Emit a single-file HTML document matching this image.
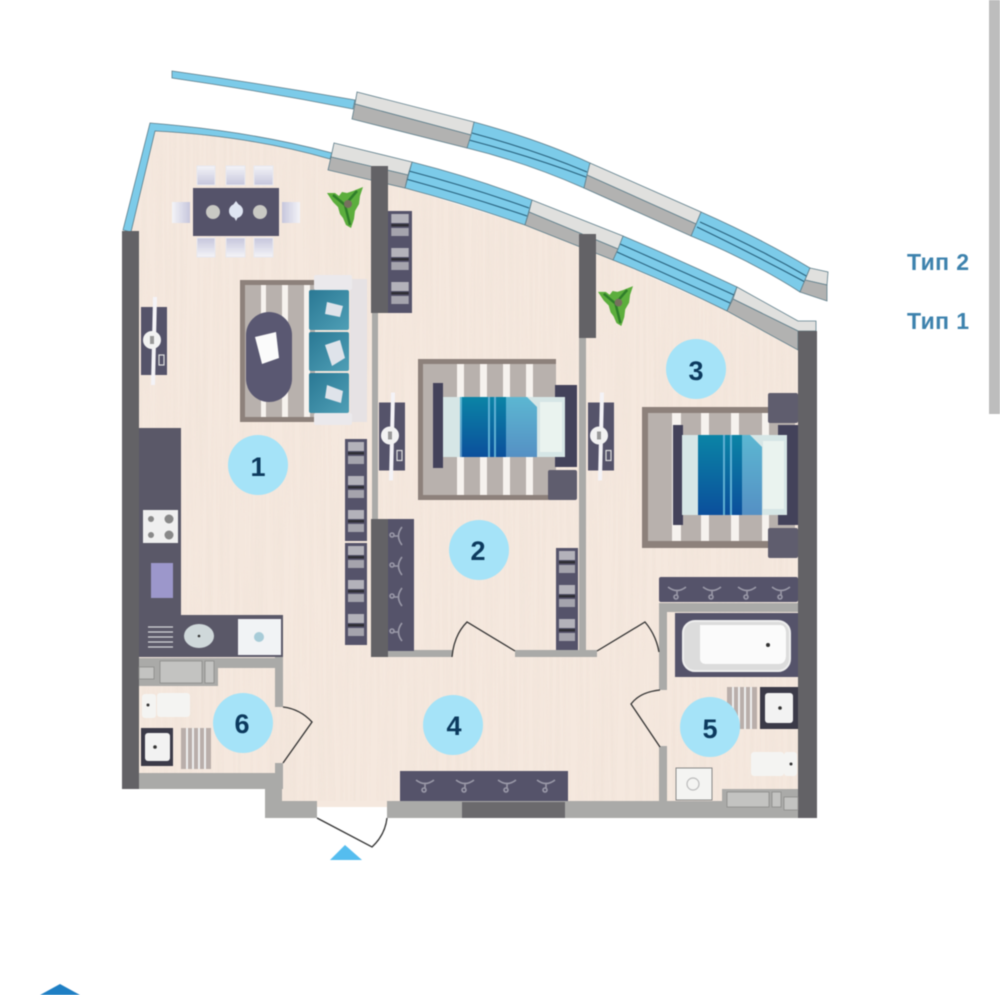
<!DOCTYPE html>
<html lang="ru"><head><meta charset="utf-8"><title>Планировка</title>
<style>html,body{margin:0;padding:0;background:#fff;width:1000px;height:995px;overflow:hidden}svg{display:block;filter:blur(.4px)}
text{font-family:"Liberation Sans","DejaVu Sans",sans-serif;font-weight:bold}</style></head>
<body>
<svg xmlns="http://www.w3.org/2000/svg" width="1000" height="995" viewBox="0 0 1000 995">
<defs>
<filter id="wood" x="0" y="0" width="100%" height="100%"><feTurbulence type="fractalNoise" baseFrequency="0.3 0.006" numOctaves="2" seed="4"/><feColorMatrix values="0 0 0 0 .82  0 0 0 0 .72  0 0 0 0 .64  0 0 0 1.6 -0.62"/></filter>
<clipPath id="fc"><path id="fp" d="M131 232L155 131Q250 136 330 159L405 188L525 225L613 260L727 311L798 350V807H282V773H131Z"/></clipPath>
<linearGradient id="ch" x1="0" y1="0" x2="0" y2="1"><stop offset="0" stop-color="#f4f4f8"/><stop offset="1" stop-color="#c6c6dc"/></linearGradient>
<linearGradient id="ch2" x1="0" y1="0" x2="1" y2="0"><stop offset="0" stop-color="#f4f4f8"/><stop offset="1" stop-color="#c6c6dc"/></linearGradient>
<linearGradient id="sofa" x1="0" y1="0" x2="1" y2="1"><stop offset="0" stop-color="#2a7894"/><stop offset="1" stop-color="#4f9fb6"/></linearGradient>
<linearGradient id="bl" x1="0" y1="0" x2="0" y2="1"><stop offset="0" stop-color="#0b84a6"/><stop offset="1" stop-color="#0b4f9c"/></linearGradient>
<linearGradient id="bl2" x1="0" y1="0" x2="0" y2="1"><stop offset="0" stop-color="#5cb7d2"/><stop offset="1" stop-color="#5590c4"/></linearGradient>
<symbol id="plant" viewBox="0 0 36 42" overflow="visible"><path d="M0 6L8 6L12 9L15 5L20 6L26 4L36 0L33 9L32 17L28 24L27 32L24 41L19 38L16 31L13 27L11 20L6 15Z" fill="#5cae3d"/><path d="M6 8L18 18L30 4M18 18L23 38" stroke="#2f7d2a" stroke-width="2.5" fill="none"/><circle cx="21" cy="17" r="4" fill="#77705f"/></symbol>
<symbol id="tv" viewBox="0 0 26 88" overflow="visible"><rect x="0" y="10" width="26" height="68" fill="#55536a"/><path d="M14 0L12 88" stroke="#f4f3f7" stroke-width="4"/><circle cx="11" cy="43" r="9" fill="#f2f2f2"/><rect x="9" y="39" width="4" height="8" fill="#999"/><rect x="18" y="58" width="5" height="10" fill="none" stroke="#ddd" stroke-width="1.2"/></symbol>
<g id="sh"><rect width="22" height="34" fill="#55536a"/><rect x="3" y="3" width="16" height="9" fill="#b3b2ba"/><rect x="3" y="13" width="16" height="2.5" fill="#2f2e36"/><rect x="3" y="17" width="16" height="8" fill="#a5a4ad"/></g>
<g id="hg" fill="none" stroke="#9a99a8" stroke-width="1.6"><path d="M-9 -3Q0 4 9 -3M0 1V5"/><circle cx="-1" cy="7" r="2"/></g>
<g id="hv" fill="none" stroke="#9a99a8" stroke-width="1.6"><path d="M3 -9Q-4 0 3 9M-1 0H-5"/><circle cx="-7" cy="-1" r="2"/></g>
</defs>

<!-- floor -->
<use href="#fp" fill="#f5e8de"/>
<g clip-path="url(#fc)"><rect x="125" y="120" width="685" height="700" filter="url(#wood)" opacity=".4"/></g>
<rect x="317" y="801" width="70" height="6" fill="#f5e8de"/>

<!-- upper windows (Тип 2) -->
<g stroke="#5d7d8a" stroke-width=".8">
<path d="M172 71Q264 84 355 100L353 109Q262 91 172 78Z" fill="#7ccbe9"/>
<path d="M474 122Q540 140 590 163L584 188Q525 162 467 148Z" fill="#7ccbe9"/>
<path d="M701 212Q760 238 810 268L800 292Q750 260 691 236Z" fill="#7ccbe9"/>
<path d="M472 133Q535 150 587 172M469 140Q530 156 586 177M700 222Q758 248 808 277M697 227Q755 255 805 282" fill="none" stroke="#27607c" stroke-width="1.100"/>
<path d="M357 92L474 122L471 135L355 104Z" fill="#e0e0de"/><path d="M355 104L471 135L467 148L352 119Z" fill="#b2b2b1"/>
<path d="M590 163L701 212L696 224L587 175Z" fill="#e0e0de"/><path d="M587 175L696 224L691 236L584 188Z" fill="#b2b2b1"/>
<path d="M810 268L828 272L827 285L805 280Z" fill="#e0e0de"/><path d="M805 280L827 285L827 301L800 292Z" fill="#b2b2b1"/>
</g>
<!-- lower windows (Тип 1) -->
<g stroke="#5d7d8a" stroke-width=".8">
<path d="M123 230L150 123Q250 131 332 153L330 159Q250 136 155 131L131 232Z" fill="#7ccbe9"/>
<path d="M412 162Q475 178 532 200L525 225Q465 204 405 188Z" fill="#7ccbe9"/>
<path d="M623 236Q680 260 737 287L727 311Q670 283 613 260Z" fill="#7ccbe9"/>
<path d="M409 171Q470 187 529 208M406 179Q468 196 527 216M620 244Q677 269 734 295M617 252Q673 277 730 303" fill="none" stroke="#27607c" stroke-width="1.100"/>
<path d="M334 143L412 162L408 175L331 157Z" fill="#e0e0de"/><path d="M331 157L408 175L405 188L328 170Z" fill="#b2b2b1"/>
<path d="M532 200L623 236L618 249L529 212Z" fill="#e0e0de"/><path d="M529 212L618 249L613 260L525 225Z" fill="#b2b2b1"/>
<path d="M737 287L798 321H816V331H798L733 299Z" fill="#e0e0de"/><path d="M733 299L798 331V350L727 311Z" fill="#b2b2b1"/>
</g>

<!-- dining -->
<g fill="url(#ch)" stroke="#e8e8ee" stroke-width="1">
<rect x="197" y="166" width="18" height="19"/><rect x="226" y="166" width="19" height="19"/><rect x="254" y="166" width="19" height="19"/>
<rect x="197" y="238" width="18" height="19" transform="rotate(180 206 247.5)"/><rect x="226" y="238" width="19" height="19" transform="rotate(180 235.500 247.500)"/><rect x="254" y="238" width="19" height="19" transform="rotate(180 263.500 247.500)"/>
</g>
<rect x="172" y="202" width="18" height="21" fill="url(#ch2)"/><rect x="282" y="202" width="18" height="21" fill="url(#ch2)" transform="rotate(180 291 212.500)"/>
<rect x="193" y="188" width="86" height="48" fill="#55536a"/>
<circle cx="213" cy="212" r="7" fill="#c9c9c4"/><circle cx="260" cy="212" r="7" fill="#c9c9c4"/><circle cx="236" cy="211" r="7" fill="#dfe5f2"/><path d="M233 205L236 201L239 205ZM234 217H238L236 221Z" fill="#dfe5f2"/>
<use href="#plant" x="327" y="187" width="36" height="42"/>
<use href="#plant" x="598" y="286" width="35" height="41"/>

<!-- living -->
<use href="#tv" x="141" y="297" width="26" height="88"/>
<rect x="240" y="280" width="75" height="142" fill="#8d817b"/><rect x="245" y="285" width="70" height="132" fill="#b8b1ad"/>
<rect x="261" y="285" width="5" height="132" fill="#f6f2ee"/><rect x="282" y="285" width="6" height="132" fill="#f6f2ee"/><rect x="304" y="285" width="6" height="132" fill="#f6f2ee"/>
<rect x="246" y="312" width="46" height="90" rx="23" fill="#5a5872"/>
<path d="M255 337L276 332L279 358L262 364Z" fill="#fbfbfb"/>
<rect x="350" y="279" width="17" height="143" fill="#e6e2e4"/>
<rect x="314" y="275" width="38" height="15" rx="2" fill="#ebe9ec"/><rect x="314" y="413" width="38" height="12" rx="2" fill="#ebe9ec"/>
<rect x="309" y="290" width="40" height="40" fill="url(#sofa)" rx="2"/><rect x="309" y="332" width="40" height="39" fill="url(#sofa)" rx="2"/><rect x="309" y="373" width="40" height="40" fill="url(#sofa)" rx="2"/>
<path d="M327 302L343 306L340 317L325 314Z M325 345L340 340L345 358L332 366Z M327 385L343 391L341 403L325 398Z" fill="#dfe3ea"/>

<!-- kitchen -->
<path d="M139 428H181V615H283V657H139Z" fill="#5a5868"/>
<rect x="143" y="510" width="35" height="33" fill="#efefef"/><circle cx="151" cy="519" r="3" fill="#888"/><circle cx="169" cy="519" r="4.500" fill="#888"/><circle cx="151" cy="535" r="3" fill="#888"/><circle cx="169" cy="535" r="4.500" fill="#888"/>
<rect x="151" y="563" width="22" height="35" fill="#9c97cb"/>
<path d="M148 627H173M148 632H173M148 637H173M148 642H173M148 647H173" stroke="#d5d5d8" stroke-width="1.300"/>
<ellipse cx="199" cy="636" rx="15" ry="12" fill="#cfd8da"/><circle cx="199" cy="636" r="1.300" fill="#333"/>
<rect x="238" y="619" width="43" height="36" fill="#f1f3f5"/><circle cx="259" cy="637" r="5" fill="#a8ccd8"/>

<!-- shelves -->
<g transform="translate(345 439)"><use href="#sh"/><use href="#sh" y="34"/><use href="#sh" y="68"/></g>
<g transform="translate(345 543)"><use href="#sh"/><use href="#sh" y="34"/><use href="#sh" y="68"/></g>
<g transform="translate(388 211) scale(1.090 1)"><use href="#sh"/><use href="#sh" y="34"/><use href="#sh" y="68"/></g>
<g transform="translate(556 548)"><use href="#sh"/><use href="#sh" y="34"/><use href="#sh" y="68"/></g>

<!-- walls -->
<g fill="#aaaaa8">
<rect x="139" y="658" width="144" height="10"/><rect x="275" y="657" width="8" height="50"/><rect x="275" y="763" width="8" height="10"/>
<rect x="139" y="773" width="144" height="16"/><rect x="265" y="773" width="17" height="45"/><rect x="265" y="801" width="52" height="17"/>
<rect x="387" y="801" width="411" height="17"/>
<rect x="372" y="313" width="6" height="207"/><rect x="579" y="338" width="7" height="318"/>
<rect x="388" y="650" width="64" height="7"/><rect x="515" y="650" width="82" height="7"/>
<rect x="659" y="603" width="139" height="9"/><rect x="659" y="603" width="8" height="87"/><rect x="659" y="746" width="8" height="56"/>
</g>
<rect x="462" y="802" width="103" height="16" fill="#6b6a6d"/>
<g fill="#636266">
<rect x="122" y="231" width="17" height="558"/><rect x="798" y="331" width="19" height="487"/>
<rect x="371" y="166" width="17" height="147"/><rect x="371" y="519" width="17" height="138"/><rect x="579" y="234" width="17" height="104"/>
</g>

<!-- wardrobes -->
<rect x="388" y="519" width="26" height="132" fill="#55536a"/><g transform="translate(399 0)"><use href="#hv" y="536"/><use href="#hv" y="566"/><use href="#hv" y="597"/><use href="#hv" y="632"/></g>
<rect x="400" y="771" width="168" height="30" fill="#55536a"/><g transform="translate(0 783)"><use href="#hg" x="425"/><use href="#hg" x="465"/><use href="#hg" x="507"/><use href="#hg" x="546"/></g>
<rect x="659" y="577" width="139" height="25" rx="2" fill="#55536a"/><g transform="translate(0 590)"><use href="#hg" x="677"/><use href="#hg" x="712"/><use href="#hg" x="747"/><use href="#hg" x="781"/></g>

<!-- room 2 -->
<use href="#tv" x="379" y="390" width="26" height="93"/><use href="#tv" x="588" y="390" width="26" height="93"/>
<rect x="418" y="359" width="138" height="141" fill="#8d817b"/><rect x="423" y="364" width="133" height="131" fill="#b8b1ad"/>
<rect x="457" y="364" width="7" height="131" fill="#f6f2ee"/><rect x="480" y="364" width="7" height="131" fill="#f6f2ee"/><rect x="503" y="364" width="7" height="131" fill="#f6f2ee"/><rect x="526" y="364" width="7" height="131" fill="#f6f2ee"/>
<rect x="433" y="383" width="10" height="85" fill="#43425a"/><rect x="555" y="385" width="22" height="82" fill="#43425a"/>
<rect x="548" y="470" width="29" height="30" rx="2" fill="#5f5d6e"/>
<rect x="443" y="397" width="122" height="60" fill="#d6e6e6"/><rect x="540" y="402" width="22" height="50" fill="#eaf3ef"/>
<path d="M460 397H527L537 407V457H460Z" fill="url(#bl2)"/><rect x="462" y="397" width="44" height="60" fill="url(#bl)"/><path d="M489 397V457M495 397V457" stroke="#5fb0d3" stroke-width="2"/>

<!-- room 3 -->
<rect x="642" y="407" width="126" height="6" fill="#8d817b"/><rect x="642" y="407" width="6" height="141" fill="#8d817b"/><rect x="642" y="541" width="153" height="7" fill="#8d817b"/>
<rect x="648" y="413" width="147" height="128" fill="#b8b1ad"/>
<rect x="672" y="413" width="9" height="128" fill="#f6f2ee"/><rect x="701" y="413" width="8" height="128" fill="#f6f2ee"/><rect x="731" y="413" width="8" height="128" fill="#f6f2ee"/><rect x="762" y="413" width="7" height="128" fill="#f6f2ee"/>
<rect x="673" y="425" width="10" height="100" fill="#43425a"/><rect x="778" y="425" width="20" height="100" fill="#43425a"/>
<rect x="768" y="393" width="30" height="30" rx="2" fill="#5f5d6e"/><rect x="768" y="528" width="30" height="30" rx="2" fill="#5f5d6e"/>
<rect x="682" y="435" width="105" height="80" fill="#d6e6e6"/><rect x="763" y="441" width="21" height="68" fill="#eaf3ef"/>
<path d="M698 435H750L762 447V515H698Z" fill="url(#bl2)"/><rect x="698" y="435" width="44" height="80" fill="url(#bl)"/><path d="M724 435V515M731 435V515" stroke="#5fb0d3" stroke-width="2"/>

<!-- bath 5 -->
<rect x="675" y="613" width="123" height="64" fill="#55536a"/><rect x="683" y="621" width="107" height="50" rx="12" fill="#dcdcdc" stroke="#eee" stroke-width="2"/><path d="M700 625H780Q786 625 786 634V655Q786 664 778 664H706Q700 664 700 658Z" fill="#fbfbfb"/><circle cx="768" cy="645" r="2" fill="#333"/>
<rect x="727" y="687" width="30" height="42" fill="#b9aeaa"/><path d="M733 687V729M739 687V729M745 687V729M751 687V729" stroke="#eee" stroke-width="2"/>
<rect x="760" y="687" width="38" height="42" fill="#3b3a48"/><rect x="765" y="693" width="28" height="30" rx="3" fill="#f2f2f2"/><circle cx="780" cy="708" r="1.800" fill="#333"/>
<rect x="751" y="752" width="33" height="24" rx="3" fill="#f4f4f2"/><rect x="784" y="752" width="13" height="24" rx="3" fill="#f4f4f2"/><circle cx="791" cy="764" r="1.500" fill="#333"/>
<rect x="676" y="768" width="36" height="32" fill="#f4f4f2" stroke="#888" stroke-width="1"/><circle cx="693" cy="784" r="6" fill="none" stroke="#bbb" stroke-width="1.200"/>
<path d="M722 801V789H798V811H722Z" fill="#aaaaa8"/><rect x="727" y="792" width="42" height="15" fill="#c3c3c1" stroke="#8c8c8a" stroke-width=".8"/><rect x="772" y="792" width="9" height="15" fill="#c3c3c1" stroke="#8c8c8a" stroke-width=".8"/><rect x="784" y="797" width="14" height="13" fill="#c3c3c1" stroke="#8c8c8a" stroke-width=".8"/>

<!-- bath 6 -->
<rect x="139" y="658" width="79" height="28" fill="#aaaaa8"/><rect x="160" y="661" width="42" height="22" fill="#c3c3c1" stroke="#8c8c8a" stroke-width=".8"/><rect x="205" y="661" width="9" height="22" fill="#c3c3c1" stroke="#8c8c8a" stroke-width=".8"/><rect x="139" y="667" width="15" height="12" fill="#c3c3c1" stroke="#8c8c8a" stroke-width=".8"/>
<rect x="142" y="694" width="14" height="24" rx="3" fill="#f4f4f2"/><rect x="157" y="693" width="33" height="24" rx="3" fill="#f4f4f2"/><circle cx="148" cy="705" r="1.500" fill="#333"/>
<rect x="141" y="728" width="32" height="38" fill="#3b3a48"/><rect x="145" y="733" width="25" height="28" rx="3" fill="#f2f2f2"/><circle cx="155" cy="747" r="1.800" fill="#333"/>
<rect x="181" y="728" width="30" height="41" fill="#b9aeaa"/><path d="M187 728V769M193 728V769M199 728V769M205 728V769" stroke="#eee" stroke-width="2"/>

<!-- doors -->
<g fill="none" stroke="#333" stroke-width="1.300">
<path d="M283 707Q300 709 312 722L283 763"/>
<path d="M660 690Q640 692 631 704L660 747"/>
<path d="M317 818L372 847Q385 835 387 818"/>
<path d="M515 651L467 622Q454 635 452 657"/>
<path d="M597 651L645 622Q656 635 659 652"/>
</g>

<!-- numbers -->
<g fill="#a5e3f8"><circle cx="258" cy="465" r="30"/><circle cx="479" cy="550" r="30"/><circle cx="696" cy="369" r="30"/><circle cx="453" cy="725" r="30"/><circle cx="710" cy="727" r="30"/><circle cx="243" cy="723" r="30"/></g>
<g fill="#0c3a5e" font-size="27" text-anchor="middle"><text x="258" y="476">1</text><text x="478" y="560">2</text><text x="696" y="380">3</text><text x="454" y="735">4</text><text x="710" y="738">5</text><text x="242" y="733">6</text></g>

<path d="M345 845L362 860H330Z" fill="#55bdef"/>
<text x="907" y="270" font-size="23" letter-spacing=".4" fill="#3d82ad">Тип 2</text>
<text x="907" y="329" font-size="23" letter-spacing=".4" fill="#3d82ad">Тип 1</text>
<rect x="989" y="0" width="11" height="414" fill="#bdbdbd"/>
<path d="M60 984L80 995H40Z" fill="#1f7fc4"/>
</svg>
</body></html>
